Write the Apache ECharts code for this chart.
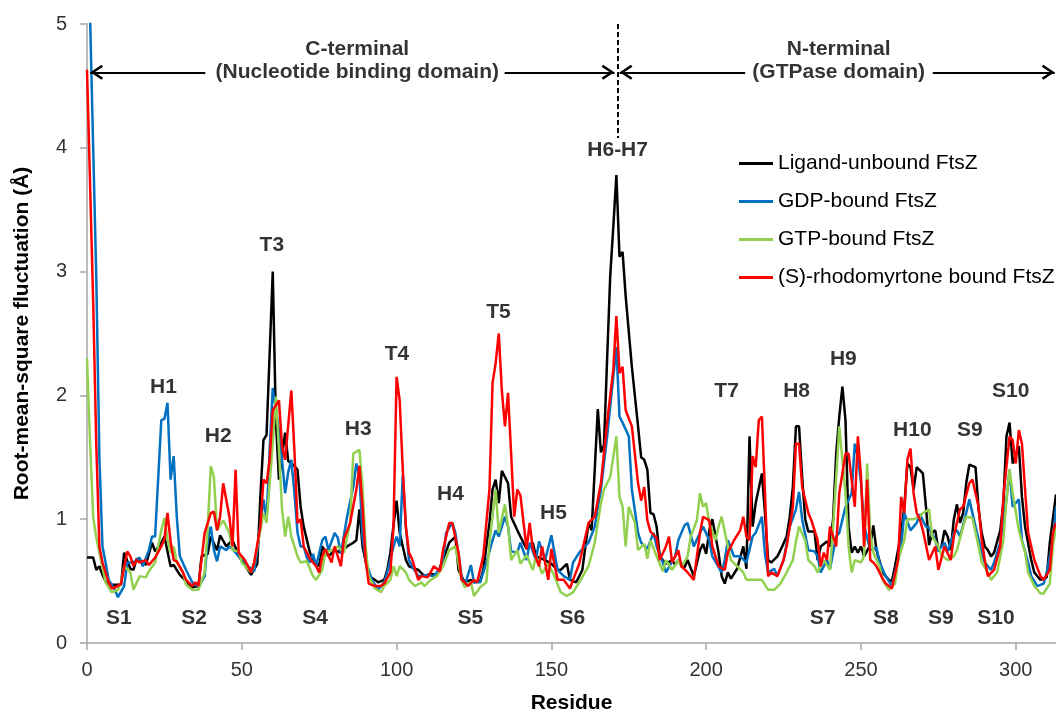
<!DOCTYPE html>
<html>
<head>
<meta charset="utf-8">
<title>RMSF FtsZ</title>
<script src="https://cdn.jsdelivr.net/npm/echarts@6/dist/echarts.min.js"></script>
<style>
html,body{margin:0;padding:0;background:#fff;}
#chart{width:1056px;height:712px;}
</style>
</head>
<body>
<div id="chart"></div>
<script>
// residue / RMSF (Å)
var unbound = [[0,0.69],[2,0.69],[3,0.59],[4,0.62],[5,0.55],[6,0.5],[7,0.47],[11,0.47],[12,0.73],[14,0.6],[15,0.59],[16,0.68],[18,0.66],[19,0.63],[21,0.81],[22,0.74],[24,0.81],[25,0.86],[27,0.62],[28,0.63],[30,0.55],[34,0.45],[36,0.46],[37,0.7],[39,0.72],[40,0.86],[42,0.75],[43,0.87],[45,0.78],[47,0.83],[48,0.77],[49,0.7],[51,0.63],[53,0.55],[55,0.64],[56,1.18],[57,1.64],[58,1.68],[60,3.0],[61,1.8],[62,1.32],[64,1.7],[65,1.47],[67,1.43],[68,1.4],[69,1.1],[70,0.94],[72,0.73],[73,0.68],[75,0.62],[76,0.78],[78,0.7],[80,0.75],[82,0.73],[84,0.78],[86,0.81],[87,0.83],[88,1.08],[89,0.78],[91,0.54],[93,0.51],[94,0.49],[96,0.51],[97,0.59],[98,0.73],[99,0.95],[100,1.15],[101,0.89],[103,0.67],[104,0.62],[107,0.59],[109,0.54],[111,0.56],[113,0.55],[115,0.67],[117,0.81],[119,0.86],[120,0.59],[122,0.49],[124,0.51],[125,0.49],[127,0.5],[128,0.59],[130,0.97],[131,1.24],[132,1.32],[133,1.13],[134,1.39],[136,1.29],[137,1.02],[139,0.91],[141,0.81],[142,0.76],[144,0.81],[145,0.7],[148,0.67],[150,0.64],[152,0.59],[153,0.59],[155,0.64],[156,0.51],[158,0.49],[160,0.59],[162,0.97],[163,0.91],[165,1.89],[166,1.54],[167,1.6],[168,2.29],[169,2.96],[170,3.36],[171,3.78],[172,3.12],[173,3.16],[174,2.8],[176,2.23],[178,1.75],[179,1.5],[180,1.48],[181,1.4],[182,1.05],[183,1.04],[184,0.94],[185,0.7],[187,0.64],[189,0.67],[190,0.63],[191,0.67],[193,0.61],[194,0.67],[196,0.54],[198,0.75],[199,0.8],[200,0.72],[201,0.91],[202,1.0],[204,0.73],[205,0.54],[206,0.48],[207,0.57],[208,0.52],[210,0.6],[212,0.78],[213,0.6],[214,1.67],[215,0.94],[216,1.13],[218,1.37],[219,1.05],[220,0.67],[221,0.65],[223,0.7],[224,0.75],[226,0.86],[227,1.02],[228,1.26],[229,1.75],[230,1.75],[231,1.34],[232,1.0],[233,0.9],[235,0.9],[236,0.67],[237,0.78],[239,0.82],[240,0.78],[241,1.0],[242,1.53],[243,1.83],[244,2.07],[245,1.8],[246,0.94],[247,0.73],[248,0.78],[249,0.73],[250,0.78],[251,0.7],[253,0.79],[254,0.95],[255,0.75],[257,0.57],[259,0.51],[260,0.5],[261,0.62],[263,0.89],[264,1.1],[265,1.45],[266,1.42],[267,1.24],[268,1.42],[270,1.37],[271,1.1],[272,0.79],[273,0.89],[274,0.91],[275,0.75],[276,0.78],[277,0.91],[278,0.86],[279,0.75],[280,1.0],[281,1.12],[282,0.97],[283,1.05],[284,1.29],[285,1.44],[287,1.42],[288,1.08],[289,0.89],[290,0.78],[291,0.75],[292,0.7],[293,0.73],[295,0.91],[296,1.13],[297,1.67],[298,1.78],[299,1.45],[301,1.59],[302,1.18],[303,0.94],[305,0.67],[306,0.57],[308,0.51],[310,0.53],[311,0.81],[313,1.2]];

var gdpBound = [[0,5.8],[1,5.05],[2,4.0],[3,2.95],[4,1.5],[5,0.78],[6,0.65],[7,0.51],[9,0.43],[10,0.37],[12,0.46],[13,0.65],[15,0.65],[17,0.69],[18,0.62],[20,0.75],[21,0.86],[22,0.86],[24,1.8],[25,1.81],[26,1.94],[27,1.32],[28,1.51],[29,1.02],[30,0.7],[32,0.59],[34,0.49],[36,0.45],[38,0.54],[39,0.83],[40,0.94],[41,0.75],[42,0.66],[43,0.78],[45,0.75],[46,0.78],[47,0.76],[49,0.7],[50,0.69],[52,0.62],[54,0.58],[55,0.75],[57,1.16],[58,1.0],[59,1.56],[60,2.06],[62,1.72],[63,1.48],[64,1.21],[65,1.38],[66,1.48],[67,1.21],[68,0.89],[69,0.78],[70,0.78],[71,0.69],[72,0.65],[73,0.72],[74,0.62],[76,0.83],[77,0.86],[78,0.75],[80,0.89],[81,0.85],[82,0.72],[84,1.02],[86,1.26],[87,1.45],[88,1.35],[89,0.86],[90,0.67],[92,0.51],[94,0.43],[96,0.49],[97,0.57],[99,0.78],[100,0.86],[101,0.78],[102,1.36],[103,0.94],[104,0.67],[105,0.62],[107,0.54],[110,0.55],[112,0.54],[114,0.6],[115,0.67],[116,0.89],[118,0.97],[119,0.89],[121,0.54],[122,0.46],[124,0.63],[125,0.49],[127,0.49],[129,0.65],[131,0.83],[132,0.91],[133,0.86],[135,1.02],[136,0.94],[137,0.74],[139,0.73],[140,0.81],[142,0.67],[143,0.81],[145,0.67],[146,0.82],[148,0.67],[150,0.87],[152,0.59],[154,0.54],[156,0.51],[157,0.65],[159,0.73],[162,0.81],[164,0.94],[166,1.24],[168,1.67],[170,2.15],[171,2.39],[172,1.83],[173,1.78],[175,1.67],[176,1.24],[178,0.89],[179,0.81],[181,0.76],[183,0.89],[184,0.78],[186,0.65],[187,0.57],[190,0.7],[191,0.83],[193,0.95],[194,0.97],[196,0.78],[198,0.89],[199,0.94],[201,0.83],[202,0.7],[205,0.57],[206,0.67],[207,0.83],[209,0.7],[211,0.7],[213,0.65],[215,0.86],[216,0.89],[218,1.02],[219,0.72],[220,0.57],[222,0.6],[223,0.54],[225,0.67],[227,0.94],[229,1.08],[230,1.22],[231,1.0],[233,0.75],[235,0.74],[236,0.7],[237,0.57],[239,0.67],[240,0.6],[242,0.86],[243,0.89],[245,1.1],[247,1.21],[248,1.61],[249,1.5],[250,1.3],[251,0.95],[253,0.75],[255,0.77],[256,0.65],[258,0.54],[260,0.46],[261,0.57],[263,0.78],[264,1.05],[266,0.91],[268,0.97],[269,1.04],[271,0.94],[272,0.93],[274,0.83],[275,0.74],[277,0.81],[278,0.74],[280,0.89],[281,0.91],[282,0.86],[284,1.05],[285,1.16],[287,0.94],[289,0.73],[290,0.65],[292,0.59],[293,0.65],[295,0.81],[297,1.16],[298,1.4],[299,1.1],[301,1.16],[302,0.83],[304,0.65],[305,0.54],[307,0.46],[309,0.48],[310,0.57],[312,0.83],[313,1.1]];

var gtpBound = [[0,2.3],[1,1.61],[2,1.02],[3,0.85],[4,0.73],[6,0.49],[8,0.41],[10,0.43],[11,0.49],[12,0.62],[14,0.57],[15,0.43],[17,0.54],[19,0.53],[20,0.58],[22,0.65],[24,0.91],[25,1.01],[26,0.84],[27,0.73],[28,0.78],[29,0.65],[31,0.57],[32,0.47],[34,0.43],[36,0.43],[38,0.57],[39,0.94],[40,1.43],[41,1.34],[42,0.91],[44,0.99],[46,0.89],[47,0.75],[49,0.74],[50,0.65],[53,0.57],[54,0.65],[56,0.91],[57,1.05],[58,0.97],[60,1.61],[61,1.99],[62,1.56],[63,1.08],[64,0.86],[65,1.02],[66,0.86],[68,0.7],[69,0.65],[71,0.66],[73,0.54],[74,0.51],[76,0.59],[77,0.73],[79,0.75],[81,0.78],[83,0.73],[85,0.97],[86,1.53],[88,1.56],[89,1.26],[90,0.78],[91,0.54],[93,0.44],[95,0.41],[96,0.46],[98,0.51],[99,0.62],[100,0.54],[101,0.62],[103,0.57],[104,0.51],[106,0.46],[108,0.49],[109,0.46],[111,0.51],[113,0.54],[115,0.62],[117,0.75],[119,0.78],[121,0.51],[122,0.45],[124,0.49],[125,0.38],[127,0.45],[129,0.49],[130,0.81],[132,1.24],[133,0.89],[135,1.12],[136,0.94],[137,0.67],[139,0.75],[140,0.64],[142,0.71],[144,0.59],[145,0.7],[147,0.56],[149,0.64],[151,0.54],[153,0.41],[155,0.38],[157,0.41],[159,0.49],[162,0.62],[164,0.81],[166,1.13],[167,1.24],[169,1.34],[171,1.67],[172,1.18],[173,1.1],[174,0.78],[175,1.1],[177,0.97],[178,0.75],[180,0.8],[181,0.68],[182,0.83],[184,0.7],[186,0.58],[187,0.67],[189,0.59],[191,0.67],[192,0.61],[194,0.7],[195,0.86],[197,0.99],[198,1.21],[199,1.1],[200,1.13],[201,0.97],[203,0.83],[204,0.94],[205,1.02],[207,0.78],[208,0.67],[210,0.62],[212,0.57],[213,0.51],[218,0.51],[220,0.43],[222,0.43],[224,0.48],[226,0.57],[228,0.67],[229,0.82],[230,0.94],[232,0.83],[233,0.67],[235,0.62],[236,0.57],[238,0.67],[240,0.59],[241,0.94],[242,1.34],[243,1.75],[245,1.21],[246,0.78],[247,0.57],[248,0.67],[250,0.65],[251,0.7],[252,1.45],[253,0.89],[254,0.73],[256,0.62],[257,0.51],[259,0.43],[261,0.48],[262,0.67],[264,0.83],[265,1.0],[267,1.0],[269,1.02],[270,1.05],[272,1.08],[273,0.86],[275,0.78],[276,0.71],[278,0.67],[280,0.7],[281,0.75],[283,0.94],[284,1.02],[286,1.01],[288,0.78],[289,0.65],[291,0.57],[292,0.51],[294,0.57],[296,0.83],[297,1.16],[298,1.4],[299,1.21],[301,0.91],[303,0.73],[304,0.57],[306,0.46],[308,0.4],[309,0.4],[311,0.48],[312,0.78],[313,0.94]];

var rhodoBound = [[0,4.63],[1,3.7],[2,2.75],[3,1.6],[4,0.78],[5,0.65],[7,0.49],[8,0.44],[10,0.46],[11,0.48],[13,0.74],[14,0.7],[15,0.62],[16,0.67],[17,0.65],[19,0.67],[20,0.63],[22,0.69],[24,0.78],[25,0.84],[26,1.05],[27,0.82],[28,0.67],[29,0.66],[31,0.57],[32,0.51],[34,0.46],[35,0.49],[36,0.46],[38,0.89],[40,1.05],[41,1.06],[42,0.91],[43,1.02],[44,1.29],[46,1.02],[47,0.78],[48,1.4],[49,0.73],[51,0.67],[53,0.57],[54,0.65],[56,0.94],[57,1.32],[58,1.29],[59,1.48],[60,1.88],[62,1.96],[63,1.59],[64,1.48],[66,2.04],[67,1.55],[68,0.97],[69,1.0],[70,0.78],[72,0.68],[74,0.62],[75,0.57],[76,0.7],[77,0.76],[79,0.65],[80,0.78],[82,0.62],[83,0.84],[85,0.97],[87,1.24],[88,1.43],[89,1.1],[90,0.67],[91,0.48],[93,0.46],[95,0.46],[96,0.48],[98,0.57],[99,0.94],[100,2.15],[101,1.96],[102,1.4],[103,0.94],[104,0.73],[105,0.68],[107,0.51],[108,0.54],[110,0.53],[111,0.57],[112,0.62],[114,0.58],[115,0.75],[117,0.97],[118,0.97],[120,0.73],[121,0.51],[122,0.49],[123,0.46],[125,0.51],[126,0.49],[128,0.7],[130,1.24],[131,2.1],[132,2.26],[133,2.5],[134,2.04],[135,1.75],[136,2.02],[137,1.53],[138,1.02],[139,1.24],[140,1.19],[142,0.76],[143,0.97],[144,0.76],[146,0.62],[147,0.78],[149,0.51],[150,0.76],[152,0.51],[154,0.51],[156,0.44],[157,0.51],[159,0.64],[162,0.97],[164,1.02],[166,1.29],[168,1.78],[170,2.21],[171,2.64],[172,2.18],[173,2.23],[174,1.88],[176,1.75],[178,1.29],[179,1.15],[180,1.26],[181,0.99],[182,0.9],[184,0.85],[185,0.67],[187,0.78],[188,0.86],[189,0.65],[191,0.75],[192,0.62],[194,0.57],[196,0.51],[197,0.7],[198,0.89],[199,1.02],[201,0.99],[202,0.78],[204,0.62],[206,0.59],[207,0.73],[209,0.83],[211,0.91],[212,1.02],[213,0.86],[214,0.83],[215,1.51],[216,1.42],[217,1.8],[218,1.83],[219,1.21],[220,0.54],[221,0.57],[223,0.54],[225,0.67],[226,0.78],[228,1.1],[229,1.61],[230,1.61],[231,1.26],[233,1.05],[234,0.99],[236,0.83],[237,0.62],[238,0.73],[239,0.67],[240,0.94],[242,0.78],[243,1.21],[245,1.53],[246,1.53],[248,1.1],[249,1.67],[250,1.35],[251,0.78],[252,1.32],[253,0.67],[254,0.65],[255,0.62],[257,0.52],[258,0.48],[260,0.44],[262,0.67],[263,1.18],[264,1.05],[265,1.48],[266,1.57],[267,1.21],[268,1.05],[269,1.0],[270,0.91],[272,0.67],[274,0.78],[275,0.59],[277,0.78],[279,0.67],[280,0.86],[282,1.08],[283,1.1],[285,1.29],[286,1.32],[288,1.1],[289,0.83],[290,0.67],[291,0.54],[293,0.59],[295,0.78],[296,1.18],[298,1.67],[299,1.64],[300,1.45],[301,1.72],[302,1.61],[303,1.24],[304,0.89],[306,0.67],[308,0.54],[309,0.51],[311,0.59],[312,0.89],[313,0.97]];

var seriesNames = ['Ligand-unbound FtsZ', 'GDP-bound FtsZ', 'GTP-bound FtsZ', '(S)-rhodomyrtone bound FtsZ'];
var xTicks = [0, 50, 100, 150, 200, 250, 300];
var yTicks = [0, 1, 2, 3, 4, 5];

// structural labels: [residue, rmsf, text]
var peakNotes = [[59.7,3.21,'T3'],[24.7,2.07,'H1'],[42.4,1.67,'H2'],[87.6,1.73,'H3'],[100.1,2.33,'T4'],[117.4,1.2,'H4'],[132.9,2.67,'T5'],[150.7,1.05,'H5'],[171.4,3.98,'H6-H7'],[206.6,2.03,'T7'],[229.2,2.03,'H8'],[244.3,2.29,'H9'],[266.6,1.72,'H10'],[285.2,1.72,'S9'],[298.4,2.03,'S10']];
var strandNotes = [[10.3,0.2,'S1'],[34.6,0.2,'S2'],[52.4,0.2,'S3'],[73.7,0.2,'S4'],[123.8,0.2,'S5'],[156.8,0.2,'S6'],[237.6,0.2,'S7'],[258,0.2,'S8'],[275.8,0.2,'S9'],[293.6,0.2,'S10']];
var domainNotes = [[87.3,4.8,'C-terminal'],[87.3,4.61,'(Nucleotide binding domain)'],[242.8,4.8,'N-terminal'],[242.8,4.61,'(GTPase domain)']];
// domain arrows: [from residue, to residue (tip)] along the arrow row
var domainArrows = [[38.2,1],[134.9,170.4],[212.6,172],[273.2,312.6]];
var arrowRow = 4.61;
var boundary = 171.3;

var FONT = '"Liberation Sans", Arial, sans-serif';
var colors = ['#000000', '#0070C0', '#92D050', '#FF0000'];
// open chevron, tip at the symbol centre (tiny dot above keeps the box symmetric)
var chevron = 'path://M5,-10 L5.02,-10 L5,-9.98 Z M5,0 L10,8.4 L8.7,9.6 L5,3.3 L1.3,9.6 L0,8.4 Z';

var chart = echarts.init(document.getElementById('chart'));

var lineSeries = [unbound, gdpBound, gtpBound, rhodoBound].map(function (d, i) {
    return {
        name: seriesNames[i],
        type: 'line',
        data: d,
        symbol: 'none',
        clip: true,
        z: 2 + i,
        lineStyle: {color: colors[i], width: 2.5},
        itemStyle: {color: colors[i]}
    };
});

var arrowLines = domainArrows.map(function (a) {
    return [{coord: [a[0], arrowRow], symbol: 'none'}, {coord: [a[1], arrowRow], symbol: chevron}];
});
arrowLines.push([{coord: [boundary, 5], symbol: 'none', lineStyle: {type: [5, 3]}},
                 {coord: [boundary, 4.08], symbol: 'none'}]);

var noteData = peakNotes.concat(strandNotes).map(function (n) {
    return {value: n};
}).concat(domainNotes.map(function (n) {
    return {value: n};
}));

var noteSeries = {
    name: 'notes',
    type: 'scatter',
    data: noteData,
    symbolSize: 1,
    itemStyle: {color: 'rgba(0,0,0,0)'},
    z: 10,
    silent: true,
    label: {
        show: true,
        position: 'inside',
        align: 'center',
        verticalAlign: 'middle',
        color: '#000',
        fontFamily: FONT,
        fontWeight: 'bold',
        fontSize: 21,
        formatter: function (p) { return p.value[2]; }
    },
    markLine: {
        silent: true,
        symbolSize: [15, 26],
        label: {show: false},
        lineStyle: {color: '#000', width: 2, type: 'solid'},
        data: arrowLines
    }
};

chart.setOption({
    animation: false,
    backgroundColor: '#fff',
    grid: {left: 87, right: 0, top: 24, bottom: 69, outerBoundsMode: 'none'},
    legend: {
        data: seriesNames,
        orient: 'vertical',
        left: 734,
        top: 148,
        icon: 'rect',
        itemWidth: 34,
        itemHeight: 3,
        itemGap: 17,
        textStyle: {fontFamily: FONT, fontSize: 21, color: '#000'}
    },
    xAxis: {
        type: 'value',
        min: 0,
        max: 313,
        name: 'Residue',
        nameLocation: 'middle',
        nameGap: 50,
        nameTextStyle: {fontFamily: FONT, fontWeight: 'bold', fontSize: 21, color: '#000'},
        splitLine: {show: false},
        axisLine: {lineStyle: {color: '#a6a6a6', width: 1.5}},
        axisTick: {length: 7, lineStyle: {color: '#a6a6a6', width: 1.5}, customValues: xTicks},
        axisLabel: {margin: 17, fontFamily: FONT, fontSize: 20, color: '#333', customValues: xTicks}
    },
    yAxis: {
        type: 'value',
        min: 0,
        max: 5,
        interval: 1,
        name: 'Root-mean-square fluctuation (Å)',
        nameLocation: 'middle',
        nameGap: 54,
        nameTextStyle: {fontFamily: FONT, fontWeight: 'bold', fontSize: 21, color: '#000'},
        splitLine: {show: false},
        axisLine: {show: true, lineStyle: {color: '#a6a6a6', width: 1.5}},
        axisTick: {show: true, length: 7, lineStyle: {color: '#a6a6a6', width: 1.5}, customValues: yTicks},
        axisLabel: {margin: 20, fontFamily: FONT, fontSize: 20, color: '#333', customValues: yTicks}
    },
    series: lineSeries.concat([noteSeries])
});
</script>
</body>
</html>
